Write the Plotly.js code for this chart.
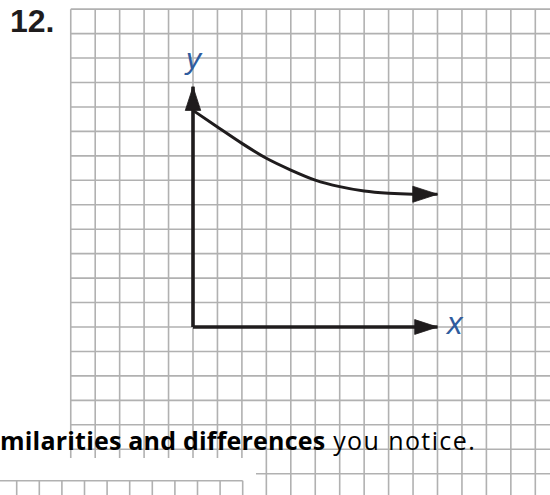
<!DOCTYPE html>
<html>
<head>
<meta charset="utf-8">
<script src="https://cdn.plot.ly/plotly-3.0.1.min.js"></script>
<style>
  html, body { margin: 0; padding: 0; background: #ffffff; }
  #chart { width: 550px; height: 495px; }
  /* letter spacing for the instruction line: looser for the plain words, near default for the bold ones */
  #chart g.annotation[data-index="3"] .annotation-text { letter-spacing: 1.4px; }
  #chart g.annotation[data-index="3"] .annotation-text tspan[style*="bold"] { letter-spacing: 0.2px; }
</style>
</head>
<body>
<div id="chart"></div>
<script>
// Curve values, in grid squares measured from the corner of the axes
const curveX = [0, 1, 2, 3, 4, 5, 6, 7, 8, 9, 10];
const curveY = [8.86, 8.18, 7.51, 6.90, 6.42, 6.01, 5.74, 5.56, 5.47, 5.43, 5.43];

// Axis arrows, in grid squares
const xAxisX = [0, 10];
const xAxisY = [0, 0];
const yAxisX = [0, 0];
const yAxisY = [0, 9.83];

// Text
const problemLabel = '12.';
const xLabel = 'x';
const yLabel = 'y';
const boldText = 'milarities and differences';
const plainText = ' you notice.';

// Graph paper lines, in grid squares
const gridCols = [-5, -4, -3, -2, -1, 0, 1, 2, 3, 4, 5, 6, 7, 8, 9, 10, 11, 12, 13, 14, 15];
const gridRows = [13, 12, 11, 10, 9, 8, 7, 6, 5, 4, 3, 2, 1, 0, -1, -2, -3, -4, -5, -6];

// Page geometry: where the axes corner sits and how big one square is (px)
const W = 550, H = 495;
const OX = 193, OY = 327, UNIT = 24.45;
const toX = px => (px - OX) / UNIT;
const toY = py => (OY - py) / UNIT;

const ink = '#1f1c1d';
const paperLine = { color: '#b1b1b1', width: 1.6 };

const shapes = [];
function seg(x0, y0, x1, y1) {
  shapes.push({ type: 'line', layer: 'below', xref: 'x', yref: 'y',
                x0: x0, y0: y0, x1: x1, y1: y1, line: paperLine });
}

// main sheet of graph paper
const rightEdge = toX(W) + 1;
const bottomEdge = toY(H) - 1;
gridRows.forEach(r => {
  if (r >= -5) seg(-5, r, rightEdge, r);
  else seg(toX(256), r, rightEdge, r);
});
gridCols.forEach(c => {
  if (c <= 2) seg(c, 13, c, toY(458));
  else seg(c, 13, c, bottomEdge);
});

// top edge of the next sheet, lower left
const nextTop = toY(480.7);
seg(toX(0) - 1, nextTop, toX(242.7), nextTop);
for (let i = 0; i <= 10; i++) {
  const cx = toX(16.7 + i * 22.6);
  seg(cx, nextTop, cx, bottomEdge);
}

function arrowTrace(xs, ys, width, headSize) {
  const sizes = xs.map((_, i) => (i === xs.length - 1 ? headSize : 0));
  return {
    type: 'scatter', mode: 'lines+markers', x: xs, y: ys,
    line: { color: ink, width: width, shape: 'spline', smoothing: 0.8 },
    marker: { symbol: 'arrow', size: sizes, angleref: 'previous', color: ink,
              opacity: 1, line: { width: 0.8, color: ink } },
    hoverinfo: 'skip', showlegend: false
  };
}

const data = [
  arrowTrace(yAxisX, yAxisY, 3.6, 25),
  arrowTrace(xAxisX, xAxisY, 3.6, 24),
  arrowTrace(curveX, curveY, 3.0, 26)
];

const labelBlue = '#2f5c9e';
const annotations = [
  { xref: 'paper', yref: 'paper', x: 8 / W, y: 1 - 21 / H,
    xanchor: 'left', yanchor: 'middle', showarrow: false, text: problemLabel,
    font: { family: 'Liberation Sans, Arial, sans-serif', size: 32, color: ink, weight: 'bold' } },
  { xref: 'paper', yref: 'paper', x: 193.5 / W, y: 1 - 59 / H,
    xanchor: 'center', yanchor: 'middle', showarrow: false, text: yLabel,
    font: { family: 'Liberation Sans, Arial, sans-serif', size: 30, color: labelBlue, style: 'italic' } },
  { xref: 'paper', yref: 'paper', x: 454 / W, y: 1 - 323.6 / H,
    xanchor: 'center', yanchor: 'middle', showarrow: false, text: xLabel,
    font: { family: 'Liberation Sans, Arial, sans-serif', size: 31, color: labelBlue, style: 'italic' } },
  { xref: 'paper', yref: 'paper', x: -2 / W, y: 1 - 439.6 / H,
    xanchor: 'left', yanchor: 'middle', align: 'left', showarrow: false,
    text: '<b>' + boldText + '</b>' + plainText,
    font: { family: 'Open Sans, sans-serif', size: 25, color: '#000000' } }
];

const hidden = { visible: false, showgrid: false, zeroline: false, fixedrange: true };
const layout = {
  width: W, height: H,
  margin: { l: 0, r: 0, t: 0, b: 0, pad: 0 },
  paper_bgcolor: '#ffffff', plot_bgcolor: '#ffffff',
  xaxis: Object.assign({ range: [toX(0), toX(W)] }, hidden),
  yaxis: Object.assign({ range: [toY(H), toY(0)] }, hidden),
  shapes: shapes,
  annotations: annotations,
  showlegend: false
};

Plotly.newPlot('chart', data, layout, { staticPlot: true, displayModeBar: false });
</script>
</body>
</html>
